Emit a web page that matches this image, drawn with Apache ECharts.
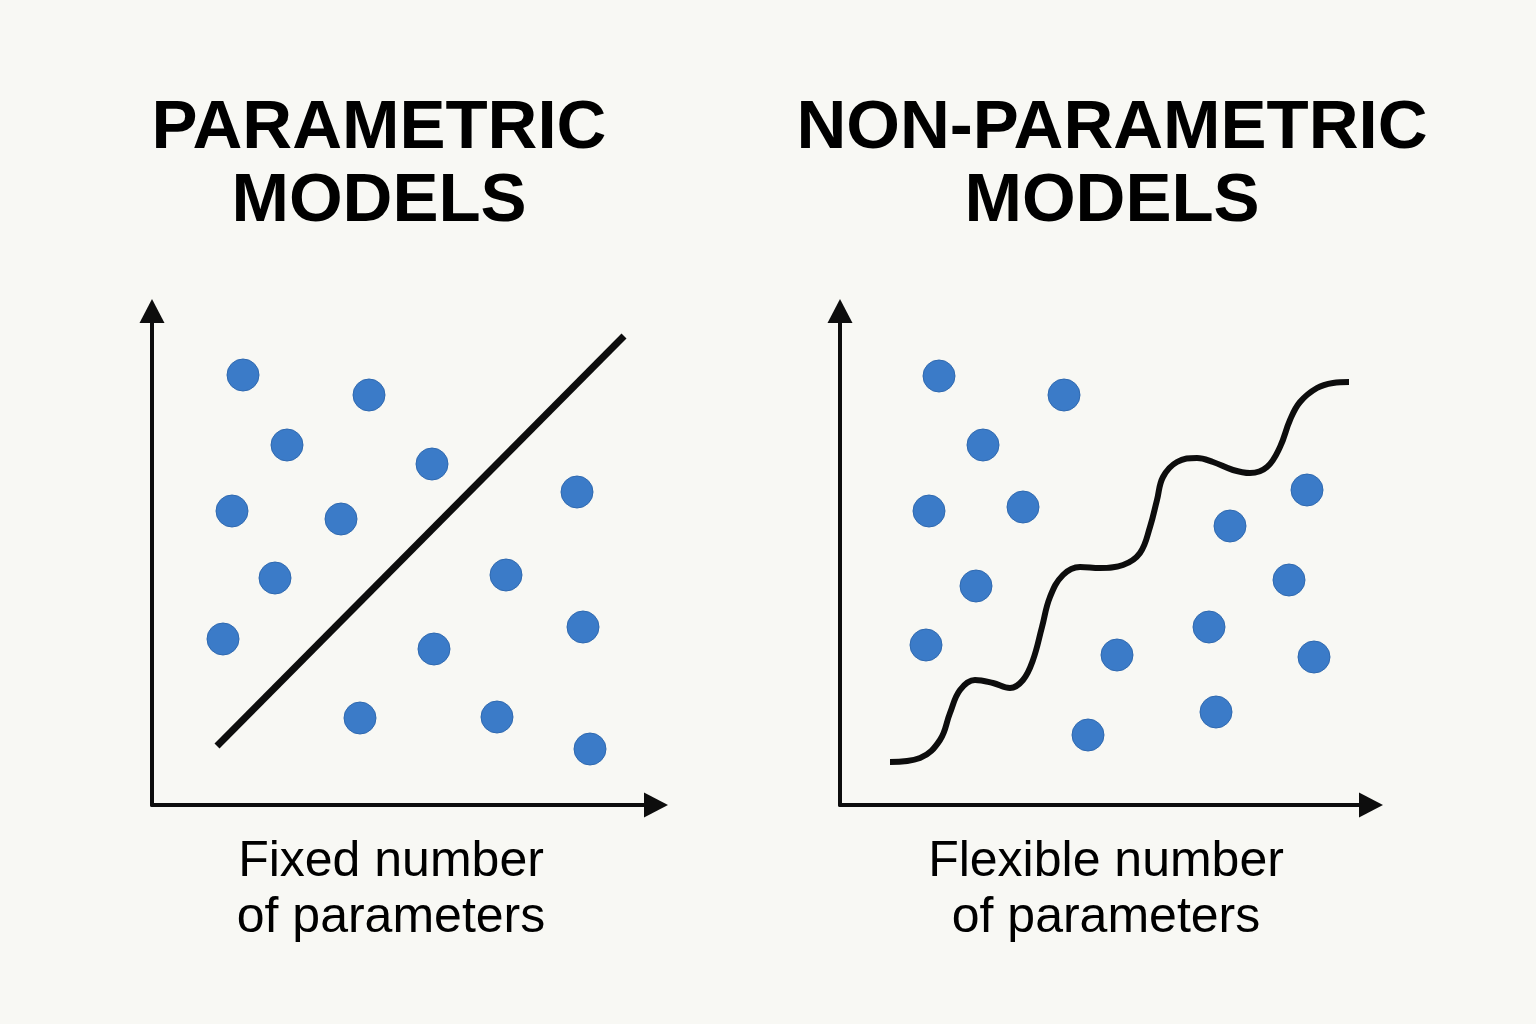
<!DOCTYPE html>
<html>
<head>
<meta charset="utf-8">
<script src="https://cdn.jsdelivr.net/npm/echarts@6/dist/echarts.min.js"></script>
<style>
  html, body { margin: 0; padding: 0; background: #f8f8f4; }
  #chart { width: 1536px; height: 1024px; }
</style>
</head>
<body>
<div id="chart"></div>
<script>
// ---- Data (in panel units) ----
const titles = ['PARAMETRIC\nMODELS', 'NON-PARAMETRIC\nMODELS'];
const captions = ['Fixed number\nof parameters', 'Flexible number\nof parameters'];

const paramDots = [
  [91, 430], [217, 410], [135, 360], [280, 341], [425, 313],
  [80, 294], [189, 286], [123, 227], [354, 230], [71, 166],
  [431, 178], [282, 156], [208, 87], [345, 88], [438, 56]
];
const paramLine = [[65, 59], [472, 469]];

const nonParamDots = [
  [99, 429], [224, 410], [143, 360], [467, 315], [89, 294],
  [183, 298], [390, 279], [136, 219], [449, 225], [86, 160],
  [369, 178], [277, 150], [474, 148], [376, 93], [248, 70]
];
const nonParamCurve = [
  [50, 43], [80, 47], [100, 65], [110, 92], [120, 115], [135, 125],
  [153, 122], [170, 117], [183, 125], [193, 145], [202, 178], [210, 208],
  [223, 230], [240, 238], [260, 237], [283, 240], [300, 252], [310, 278],
  [317, 305], [323, 328], [337, 343], [357, 347], [373, 343], [393, 335],
  [410, 332], [427, 338], [440, 358], [450, 385], [460, 403], [477, 417],
  [493, 422], [509, 423]
];

// ---- Styling ----
const DOT = '#3b7bc8';
const INK = '#0d0d0d';
const FONT = '"Liberation Sans", Arial, sans-serif';

function makeAxis(gridIndex, max) {
  return {
    type: 'value', gridIndex, min: 0, max,
    axisLine: { show: true, onZero: false, symbol: ['none', 'triangle'], symbolSize: [25, 24],
                lineStyle: { color: INK, width: 4 } },
    axisTick: { show: false }, axisLabel: { show: false }, splitLine: { show: false }
  };
}

const titleStyle = { fontFamily: FONT, fontSize: 69, fontWeight: 'bold', lineHeight: 73, color: '#000' };
const captionStyle = { fontFamily: FONT, fontSize: 50, fontWeight: 'normal', lineHeight: 56, color: '#000' };

const chart = echarts.init(document.getElementById('chart'));
chart.setOption({
  backgroundColor: '#f8f8f4',
  animation: false,
  title: [
    { text: titles[0], left: 379, top: 92, textAlign: 'center', padding: 0, textStyle: titleStyle },
    { text: titles[1], left: 1112, top: 92, textAlign: 'center', padding: 0, textStyle: titleStyle },
    { text: captions[0], left: 391, top: 834, textAlign: 'center', padding: 0, textStyle: captionStyle },
    { text: captions[1], left: 1106, top: 834, textAlign: 'center', padding: 0, textStyle: captionStyle }
  ],
  grid: [
    { left: 152, top: 311, width: 504, height: 494 },
    { left: 840, top: 311, width: 531, height: 494 }
  ],
  xAxis: [makeAxis(0, 504), makeAxis(1, 531)],
  yAxis: [makeAxis(0, 494), makeAxis(1, 494)],
  series: [
    { type: 'line', xAxisIndex: 0, yAxisIndex: 0, data: paramLine, showSymbol: false,
      lineStyle: { color: INK, width: 7 }, clip: false, silent: true },
    { type: 'scatter', xAxisIndex: 0, yAxisIndex: 0, data: paramDots, symbolSize: 32,
      itemStyle: { color: DOT, borderColor: '#2f69b0', borderWidth: 1, opacity: 1 } },
    { type: 'line', xAxisIndex: 1, yAxisIndex: 1, data: nonParamCurve, showSymbol: false,
      smooth: 0.4, lineStyle: { color: INK, width: 6 }, clip: false, silent: true },
    { type: 'scatter', xAxisIndex: 1, yAxisIndex: 1, data: nonParamDots, symbolSize: 32,
      itemStyle: { color: DOT, borderColor: '#2f69b0', borderWidth: 1, opacity: 1 } }
  ]
});
</script>
</body>
</html>
